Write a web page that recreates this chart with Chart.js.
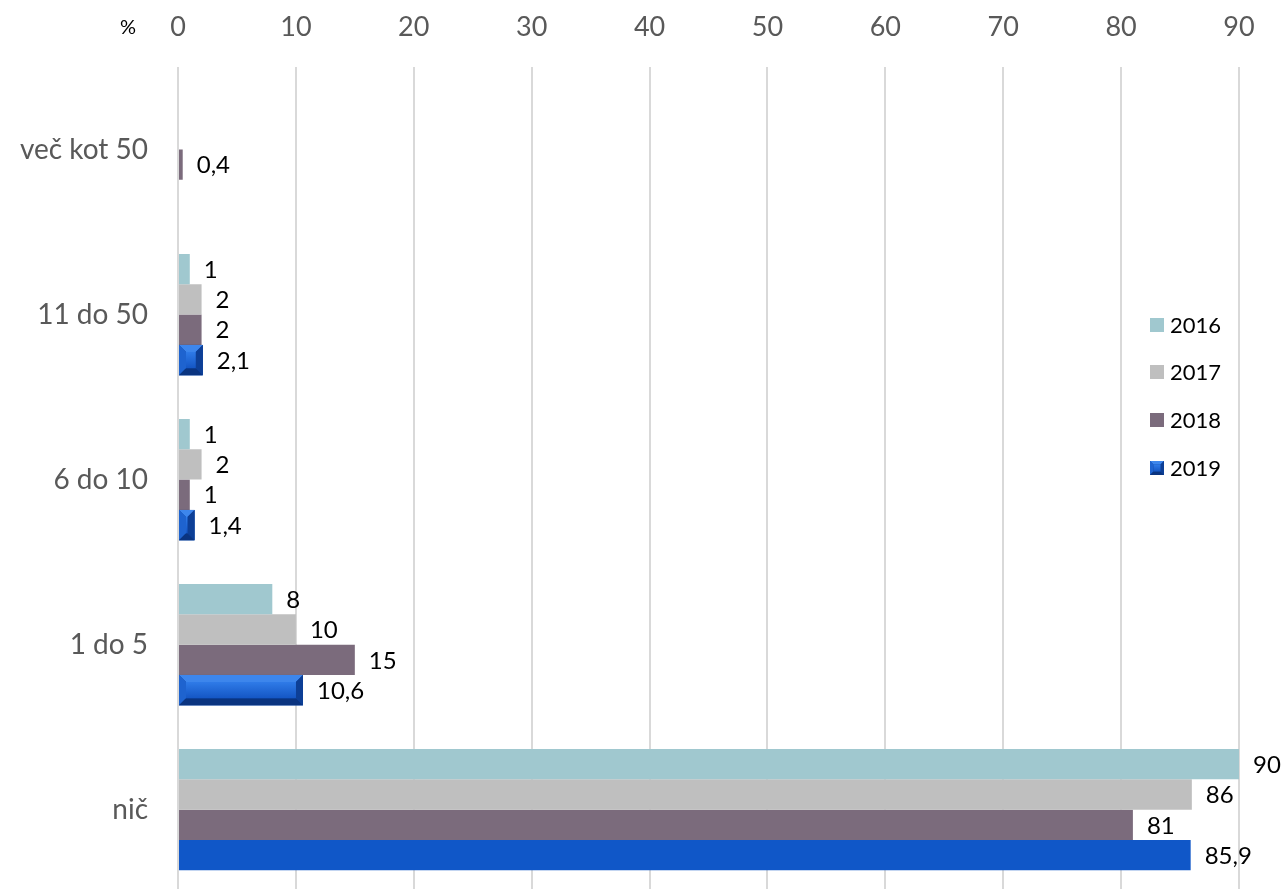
<!DOCTYPE html>
<html>
<head>
<meta charset="utf-8">
<script src="https://cdn.jsdelivr.net/npm/chart.js@4.4.1/dist/chart.umd.min.js"></script>
<style>
  html, body { margin: 0; padding: 0; background: #fff; overflow: hidden; }
  #wrap { width: 1284px; height: 889px; overflow: hidden; }
</style>
</head>
<body>
<div id="wrap"><canvas id="chart" width="1284" height="939"></canvas></div>
<script>
// podatki
const categories = ["več kot 50", "11 do 50", "6 do 10", "1 do 5", "nič"];
const years = ["2016", "2017", "2018", "2019"];
const values2016 = [null, 1, 1, 8, 90];
const values2017 = [null, 2, 2, 10, 86];
const values2018 = [0.4, 2, 1, 15, 81];
const values2019 = [null, 2.1, 1.4, 10.6, 85.9];
const xTicks = [0, 10, 20, 30, 40, 50, 60, 70, 80, 90];

const COLORS = ["#A0C8CF", "#BFBFBF", "#7B6B7C", "#1057C8"];
const FONT = "Lato, 'Open Sans', sans-serif";

// bevel za 2019 (razen zadnje kategorije, ki je ravna)
function drawBevel(ctx, left, top, w, h) {
  const b = Math.min(7, h / 4, w / 2);
  ctx.save();
  ctx.fillStyle = "#0B3F9A";
  ctx.fillRect(left, top, w, h);
  // zgornji rob
  ctx.fillStyle = "#3D86EC";
  ctx.beginPath();
  ctx.moveTo(left, top); ctx.lineTo(left + w, top); ctx.lineTo(left + w - b, top + b); ctx.lineTo(left + b, top + b); ctx.closePath(); ctx.fill();
  // levi rob
  ctx.fillStyle = "#1E63CF";
  ctx.beginPath();
  ctx.moveTo(left, top); ctx.lineTo(left + b, top + b); ctx.lineTo(left + b, top + h - b); ctx.lineTo(left, top + h); ctx.closePath(); ctx.fill();
  // spodnji rob
  ctx.fillStyle = "#0A3480";
  ctx.beginPath();
  ctx.moveTo(left, top + h); ctx.lineTo(left + b, top + h - b); ctx.lineTo(left + w - b, top + h - b); ctx.lineTo(left + w, top + h); ctx.closePath(); ctx.fill();
  // desni rob
  ctx.fillStyle = "#0D3F96";
  ctx.beginPath();
  ctx.moveTo(left + w, top); ctx.lineTo(left + w, top + h); ctx.lineTo(left + w - b, top + h - b); ctx.lineTo(left + w - b, top + b); ctx.closePath(); ctx.fill();
  // sredina
  if (w > 2 * b) {
    const g = ctx.createLinearGradient(0, top + b, 0, top + h - b);
    g.addColorStop(0, "#2F7BE8");
    g.addColorStop(1, "#1456C4");
    ctx.fillStyle = g;
    ctx.fillRect(left + b, top + b, w - 2 * b, h - 2 * b);
  }
  ctx.restore();
}

const extrasPlugin = {
  id: "extras",
  afterDatasetsDraw(chart) {
    const ctx = chart.ctx;
    // bevel
    const meta19 = chart.getDatasetMeta(3);
    meta19.data.forEach((el, i) => {
      const v = chart.data.datasets[3].data[i];
      if (v === null || i === categories.length - 1) return;
      const p = el.getProps(["x", "y", "base", "height"], true);
      drawBevel(ctx, p.base, p.y - p.height / 2, p.x - p.base, p.height);
    });
    // oznake vrednosti
    ctx.save();
    ctx.font = "24px " + FONT;
    ctx.fillStyle = "#000";
    ctx.textAlign = "left";
    ctx.textBaseline = "middle";
    chart.data.datasets.forEach((ds, di) => {
      const meta = chart.getDatasetMeta(di);
      meta.data.forEach((el, i) => {
        const v = ds.data[i];
        if (v === null) return;
        const p = el.getProps(["x", "y"], true);
        ctx.fillText(String(v).replace(".", ","), p.x + 14, p.y + 1);
      });
    });
    ctx.restore();
  },
  afterDraw(chart) {
    const ctx = chart.ctx;
    ctx.save();
    // legenda
    ctx.font = "22px " + FONT;
    ctx.textBaseline = "middle";
    ctx.textAlign = "left";
    const ly = [325, 372, 420, 468];
    years.forEach((y, i) => {
      if (i === 3) drawBevel(ctx, 1150, ly[i] - 7, 14, 14);
      else { ctx.fillStyle = COLORS[i]; ctx.fillRect(1150, ly[i] - 7, 14, 14); }
      ctx.fillStyle = "#000";
      ctx.fillText(y, 1170, ly[i] + 1);
    });
    // enota
    ctx.font = "20px " + FONT;
    ctx.textAlign = "center";
    ctx.fillText("%", 128, 28);
    ctx.font = "30px " + FONT;
    ctx.textAlign = "left";
    ctx.fillText(")", -7, 12);
    ctx.restore();
  }
};

const series = [values2016, values2017, values2018, values2019];
const datasets = series.map((d, i) => ({
  label: years[i],
  data: d,
  backgroundColor: COLORS[i],
  borderWidth: 0,
  categoryPercentage: 0.735,
  barPercentage: 1
}));

new Chart(document.getElementById("chart"), {
  type: "bar",
  data: { labels: categories, datasets },
  options: {
    indexAxis: "y",
    responsive: false,
    devicePixelRatio: 1,
    animation: false,
    layout: { padding: { left: 0, right: 45, top: 0, bottom: 0 } },
    scales: {
      x: {
        position: "top",
        min: 0,
        max: 90,
        afterBuildTicks: (axis) => { axis.ticks = xTicks.map((v) => ({ value: v })); },
        afterFit: (axis) => { axis.height = 67; },
        grid: { color: "#D9D9D9", lineWidth: 2, drawTicks: false },
        border: { display: false },
        ticks: { color: "#595959", font: { family: FONT, size: 27 }, padding: 24 }
      },
      y: {
        afterFit: (axis) => { axis.width = 178; },
        grid: { display: false, drawTicks: false },
        border: { display: false },
        ticks: { color: "#595959", font: { family: FONT, size: 28 }, padding: 30 }
      }
    },
    plugins: {
      legend: { display: false },
      tooltip: { enabled: false }
    }
  },
  plugins: [extrasPlugin]
});
</script>
</body>
</html>
